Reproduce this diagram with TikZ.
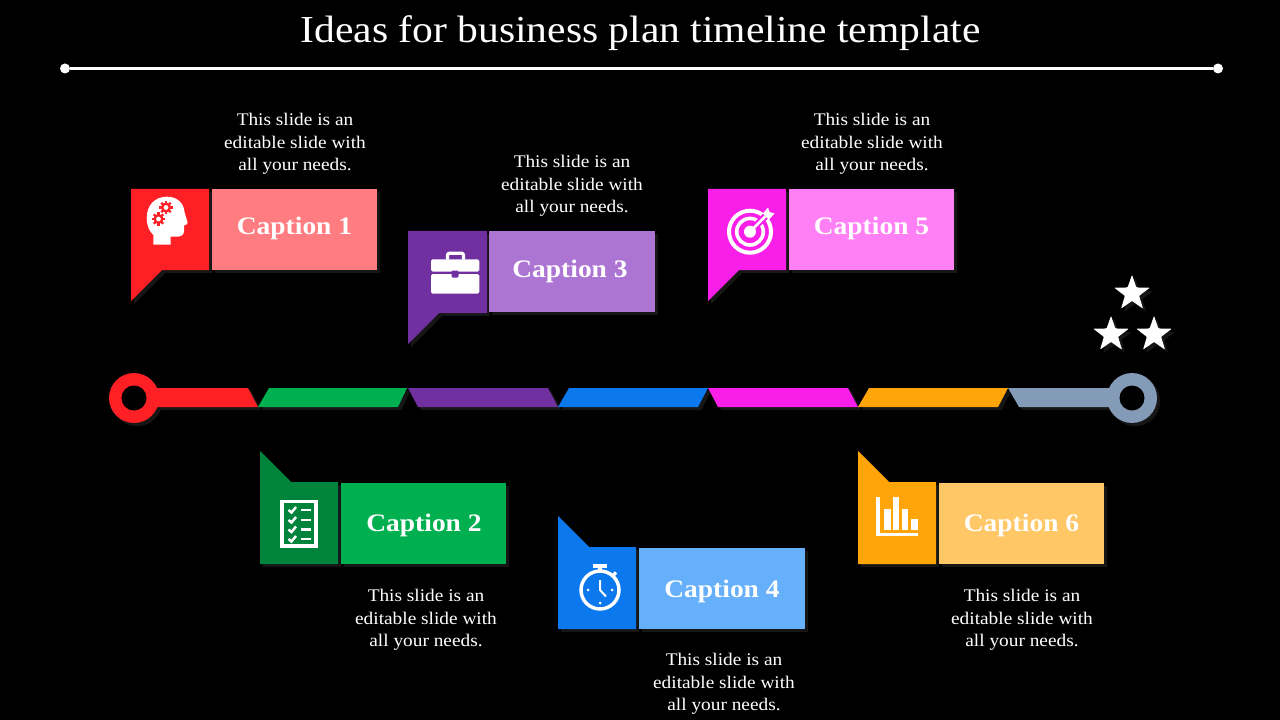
\documentclass[tikz,border=0pt]{standalone}
\usepackage{fontspec}
\usetikzlibrary{shadows,shapes.geometric}
\setmainfont[FakeStretch=1.09]{Liberation Serif}
\definecolor{shc}{HTML}{161616}
\definecolor{cRed}{HTML}{FF2025}\definecolor{cRedL}{HTML}{FF7C80}
\definecolor{cGreen}{HTML}{00B050}\definecolor{cGreenD}{HTML}{00843C}
\definecolor{cPur}{HTML}{7030A0}\definecolor{cPurL}{HTML}{AC75D3}
\definecolor{cBlue}{HTML}{0B78EE}\definecolor{cBlueL}{HTML}{66AFFB}
\definecolor{cMag}{HTML}{FA1FE8}\definecolor{cMagL}{HTML}{FF80F4}
\definecolor{cOr}{HTML}{FFA50A}\definecolor{cOrL}{HTML}{FFC766}
\definecolor{cGray}{HTML}{849BB8}
\tikzset{
  sh/.style={general shadow={fill=shc,shadow xshift=2.4pt,shadow yshift=-2.4pt}},
  capbox/.style={sh,rectangle,inner sep=0pt,minimum height=60.75pt},
  captxt/.style={text=white,inner sep=0pt,font=\fontsize{18.9}{22}\selectfont\bfseries},
  bodytxt/.style={align=center,text=white,inner sep=0pt,font=\fontsize{13.3}{16.9}\selectfont},
  titletxt/.style={text=white,inner sep=0pt,font=\fontsize{28.6}{32}\selectfont},
  starshape/.style={sh,star,star points=5,star point ratio=2.5,fill=white,inner sep=0pt,minimum size=28pt,rounded corners=0.6pt},
  dotend/.style={circle,fill=white,inner sep=0pt,minimum size=7.5pt},
}
\begin{document}
\begin{tikzpicture}[x=0.75pt,y=-0.75pt]
\useasboundingbox (0,0) rectangle (1280,720);
\fill[black] (0,0) rectangle (1280,720);
% title
\node[titletxt] (title) at (640.5,33) {Ideas for business plan timeline template};
\node[dotend] (la) at (65,68.5) {};
\node[dotend] (lb) at (1218,68.5) {};
\draw[white,line width=2.3pt] (la) -- (lb);
% timeline
\fill[cRed,sh] (134,398) circle[radius=25];
\fill[black] (134,398) circle[radius=12.5];
\fill[cRed,sh] (155,388) -- (248,388) -- (258,407) -- (155,407) -- cycle;
\fill[cGreen,sh] (269,388) -- (407,388) -- (398,407) -- (258,407) -- cycle;
\fill[cPur,sh] (408,388) -- (548,388) -- (558,407) -- (418,407) -- cycle;
\fill[cBlue,sh] (569,388) -- (708,388) -- (698,407) -- (558,407) -- cycle;
\fill[cMag,sh] (708,388) -- (848,388) -- (858,407) -- (718,407) -- cycle;
\fill[cOr,sh] (869,388) -- (1008,388) -- (998,407) -- (858,407) -- cycle;
\fill[cGray,sh] (1008,388) -- (1112,388) -- (1112,407) -- (1019,407) -- cycle;
\fill[cGray,sh] (1132,398) circle[radius=25];
\fill[black] (1132,398) circle[radius=12.5];
% stars
\node[starshape] (s1) at (1132,293.5) {};
\node[starshape] (s2) at (1111,334.5) {};
\node[starshape] (s3) at (1154,334.5) {};
% flags
\fill[cRed,sh] (131,189) -- (209,189) -- (209,270) -- (162,270) -- (131,301) -- cycle;
\fill[cPur,sh] (408,231) -- (487,231) -- (487,313) -- (439,313) -- (408,344) -- cycle;
\fill[cMag,sh] (708,189) -- (786,189) -- (786,270) -- (739,270) -- (708,301) -- cycle;
\fill[cGreenD,sh] (260,451) -- (291,482) -- (338,482) -- (338,564) -- (260,564) -- cycle;
\fill[cBlue,sh] (558,516) -- (589,547) -- (636,547) -- (636,629) -- (558,629) -- cycle;
\fill[cOr,sh] (858,451) -- (889,482) -- (936,482) -- (936,564) -- (858,564) -- cycle;
% caption boxes
\node[capbox,fill=cRedL,minimum width=123.75pt] (c1) at (294.5,229.5) {};
\node[captxt] (c1t) at (294.5,228.5) {Caption 1};
\node[capbox,fill=cPurL,minimum width=124.5pt] (c3) at (572,271.5) {};
\node[captxt] (c3t) at (570,271.5) {Caption 3};
\node[capbox,fill=cMagL,minimum width=123.75pt] (c5) at (871.5,229.5) {};
\node[captxt] (c5t) at (871.5,228.5) {Caption 5};
\node[capbox,fill=cGreen,minimum width=123.75pt] (c2) at (423.5,523.5) {};
\node[captxt] (c2t) at (424,525.5) {Caption 2};
\node[capbox,fill=cBlueL,minimum width=124.5pt] (c4) at (722,588.5) {};
\node[captxt] (c4t) at (722,591.5) {Caption 4};
\node[capbox,fill=cOrL,minimum width=123.75pt] (c6) at (1021.5,523.5) {};
\node[captxt] (c6t) at (1021.5,525.5) {Caption 6};
% body texts
\node[bodytxt] (t1) at (295,144) {This slide is an\\editable slide with\\all your needs.};
\node[bodytxt] (t3) at (572,186) {This slide is an\\editable slide with\\all your needs.};
\node[bodytxt] (t5) at (872,144) {This slide is an\\editable slide with\\all your needs.};
\node[bodytxt] (t2) at (426,620) {This slide is an\\editable slide with\\all your needs.};
\node[bodytxt] (t4) at (724,684) {This slide is an\\editable slide with\\all your needs.};
\node[bodytxt] (t6) at (1022,620) {This slide is an\\editable slide with\\all your needs.};
% icon: head with gears
\fill[white] (153.3,244.7) -- (153.3,235) .. controls (149,231) and (146.7,225) .. (146.7,218)
  .. controls (146.7,205) and (155,196.7) .. (167,196.7) .. controls (178,196.7) and (184,204) .. (184.5,212)
  -- (187.7,223) .. controls (187,225) and (185,225) .. (184,225.5) -- (184,231)
  .. controls (184,235) and (181,236.7) .. (177,236.7) -- (170.7,236.7) -- (170.7,244.7) -- cycle;
\foreach \gx/\gy in {166/207.5, 158.5/219}{
  \fill[cRed] (\gx,\gy) circle[radius=5];
  \foreach \ang in {0,45,...,315}{
    \fill[cRed,shift={(\gx,\gy)},rotate=\ang] (-1.2,-6.6) rectangle (1.2,0);
  }
  \fill[white] (\gx,\gy) circle[radius=2.4];
}
% icon: briefcase
\draw[white,line width=2.4pt,rounded corners=1.5pt] (447.5,259.5) -- (447.5,253.2) -- (463.5,253.2) -- (463.5,259.5);
\fill[white,rounded corners=1.2pt] (431,271.6) -- (431,259.3) -- (479.3,259.3) -- (479.3,271.6) -- cycle;
\fill[white,rounded corners=1.2pt] (431,274) -- (431,293.7) -- (479.3,293.7) -- (479.3,274) -- cycle;
\fill[cPur,rounded corners=0.8pt] (451.5,270.5) rectangle (458.5,277.5);
% icon: target
\draw[white,line width=3pt] (750,231.7) circle[radius=21];
\draw[white,line width=2.7pt] (750,231.7) circle[radius=13.3];
\draw[cMag,line width=5pt] (750,231.7) -- (768,213.7);
\fill[white] (750,231.7) circle[radius=6];
\draw[white,line width=2pt] (750,231.7) -- (768,213.7);
\fill[white] (763,213.5) -- (768,207.5) -- (769.5,212) -- (774.5,213.5) -- (769,219.5) -- (765.5,216.5) -- cycle;
% icon: checklist
\draw[white,line width=2.5pt] (282,501.7) rectangle (316,546);
\foreach \cy in {510,520,529.5,539}{
  \draw[white,line width=1.9pt] (288.5,\cy) -- (291.5,\cy+2.5) -- (296,\cy-3);
  \draw[white,line width=1.7pt] (300.5,\cy) -- (310.5,\cy);
}
% icon: stopwatch
\draw[white,line width=2.6pt] (600,590) circle[radius=19];
\draw[white,line width=2.6pt] (592.7,566) -- (607.3,566);
\draw[white,line width=3pt] (600,566) -- (600,571);
\draw[white,line width=2.6pt] (611.5,577) -- (616,572.5);
\draw[white,line width=1.5pt] (600,580) -- (600,590) -- (606,596.5);
\fill[white] (588,590) circle[radius=1.5] (612,590) circle[radius=1.5] (600,603) circle[radius=1.5];
% icon: bars
\draw[white,line width=2.3pt] (878,496.7) -- (878,534.5) -- (917.7,534.5);
\fill[white] (884,509) rectangle (890.7,530);
\fill[white] (892.7,496.7) rectangle (899.3,530);
\fill[white] (901.7,509) rectangle (908.3,530);
\fill[white] (911,519) rectangle (917.7,530);
\end{tikzpicture}
\end{document}
